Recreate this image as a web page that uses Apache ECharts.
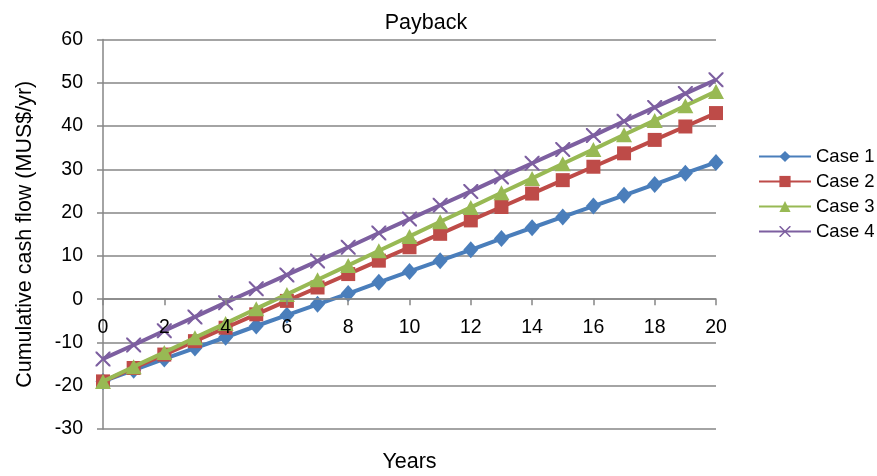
<!DOCTYPE html>
<html>
<head>
<meta charset="utf-8">
<script src="https://cdn.jsdelivr.net/npm/echarts@6/dist/echarts.min.js"></script>
<style>
  html, body { margin: 0; padding: 0; background: #fff; }
  #chart { width: 877px; height: 476px; }
</style>
</head>
<body>
<div id="chart"></div>
<script>
// Years of operation
const years = [0, 1, 2, 3, 4, 5, 6, 7, 8, 9, 10, 11, 12, 13, 14, 15, 16, 17, 18, 19, 20];

// Cumulative cash flow per case (MUS$/yr)
const case1 = [-19.0, -16.4, -13.8, -11.3, -8.8, -6.2, -3.7, -1.2, 1.3, 3.9, 6.4, 8.9, 11.4, 14.0, 16.5, 19.0, 21.5, 24.0, 26.5, 29.1, 31.6];
const case2 = [-19.0, -15.9, -12.8, -9.7, -6.6, -3.5, -0.4, 2.7, 5.8, 8.9, 12.0, 15.1, 18.2, 21.3, 24.4, 27.5, 30.6, 33.7, 36.8, 39.9, 43.0];
const case3 = [-19.0, -15.6, -12.3, -8.9, -5.6, -2.2, 1.1, 4.5, 7.8, 11.2, 14.5, 17.9, 21.2, 24.6, 27.9, 31.3, 34.6, 38.0, 41.3, 44.7, 48.0];
const case4 = [-13.8, -10.6, -7.3, -4.1, -0.8, 2.4, 5.6, 8.8, 12.0, 15.3, 18.5, 21.7, 24.9, 28.2, 31.4, 34.6, 37.8, 41.1, 44.3, 47.5, 50.7];

const seriesNames = ['Case 1', 'Case 2', 'Case 3', 'Case 4'];
const seriesColors = ['#4A7EBB', '#BE4B48', '#98B954', '#7D5FA0'];

const font = 'Liberation Sans, Arial, sans-serif';
const axisGray = '#868686';
const crossPath = 'path://M0,0 L2,0 L10,8 L18,0 L20,0 L20,2 L12,10 L20,18 L20,20 L18,20 L10,12 L2,20 L0,20 L0,18 L8,10 L0,2 Z';

// Plot box and value range, used to lift the year axis up to the zero line
const gridTop = 39.5;
const gridBottom = 47;
const yMin = -30;
const yMax = 60;
const plotHeight = 476 - gridTop - gridBottom;
const zeroLift = -plotHeight * (0 - yMin) / (yMax - yMin);

const pairs = vals => years.map((y, i) => [y, vals[i]]);

const markers = [
  { symbol: 'diamond', size: [15, 17] },
  { symbol: 'rect', size: 14 },
  { symbol: 'triangle', size: [16, 15] },
  { symbol: crossPath, size: 15 }
];

const chart = echarts.init(document.getElementById('chart'), null, { renderer: 'canvas' });

chart.setOption({
  animation: false,
  backgroundColor: '#fff',
  title: {
    text: 'Payback',
    left: 421,
    textAlign: 'center',
    top: 7,
    textStyle: { fontFamily: font, fontSize: 21.5, fontWeight: 'normal', color: '#000' }
  },
  legend: {
    orient: 'vertical',
    left: 758,
    top: 146,
    padding: 0,
    itemWidth: 52,
    itemHeight: 14,
    itemGap: 4,
    textStyle: { fontFamily: font, fontSize: 18.5, color: '#000', lineHeight: 21 },
    data: seriesNames
  },
  grid: { left: 103, right: 161, top: gridTop, bottom: gridBottom, containLabel: false, outerBoundsMode: 'none' },
  xAxis: {
    type: 'value',
    min: 0,
    max: 20,
    interval: 2,
    offset: zeroLift,
    z: 10,
    name: 'Years',
    nameLocation: 'middle',
    nameGap: 152,
    nameTextStyle: { fontFamily: font, fontSize: 21.5, color: '#000' },
    axisLine: { onZero: false, lineStyle: { color: axisGray, width: 1.5 } },
    axisTick: { show: true, length: 6, lineStyle: { color: axisGray, width: 1.5 } },
    axisLabel: { fontFamily: font, fontSize: 19.5, color: '#000', margin: 18 },
    splitLine: { show: false }
  },
  yAxis: {
    type: 'value',
    min: yMin,
    max: yMax,
    interval: 10,
    name: 'Cumulative cash flow (MUS$/yr)',
    nameLocation: 'middle',
    nameGap: 67,
    nameTextStyle: { fontFamily: font, fontSize: 21.5, color: '#000' },
    axisLine: { show: true, lineStyle: { color: axisGray, width: 1.5 } },
    axisTick: { show: true, length: 6, lineStyle: { color: axisGray, width: 1.5 } },
    axisLabel: { fontFamily: font, fontSize: 19.5, color: '#000', margin: 20 },
    splitLine: { show: true, lineStyle: { color: axisGray, width: 1.5 } }
  },
  series: [case1, case2, case3, case4].map((vals, i) => ({
    name: seriesNames[i],
    type: 'line',
    data: pairs(vals),
    symbol: markers[i].symbol,
    symbolSize: markers[i].size,
    showAllSymbol: true,
    color: seriesColors[i],
    lineStyle: { color: seriesColors[i], width: 4 },
    itemStyle: { color: seriesColors[i], borderWidth: 0 },
    z: 2 + i
  }))
});
</script>
</body>
</html>
